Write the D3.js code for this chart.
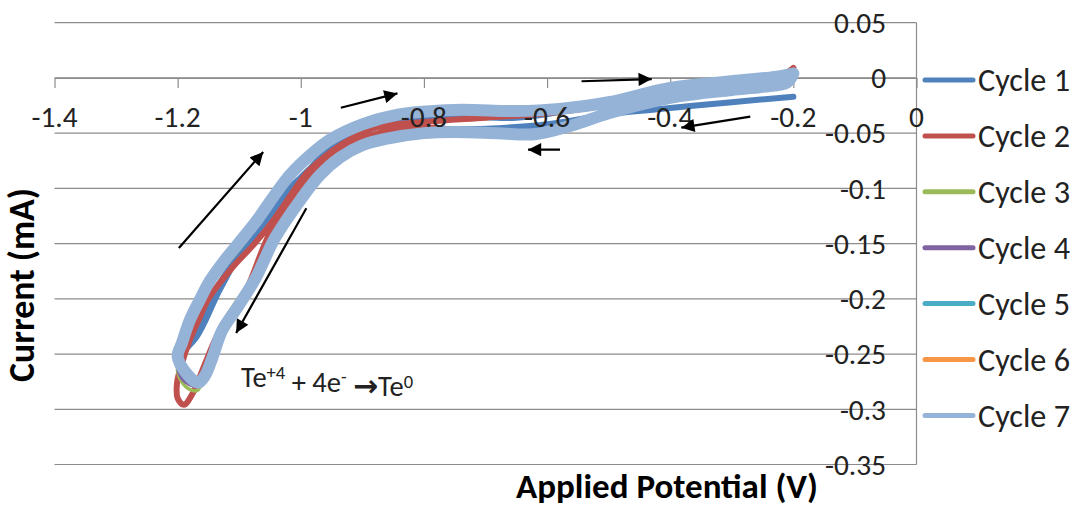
<!DOCTYPE html>
<html>
<head>
<meta charset="utf-8">
<script src="https://cdn.jsdelivr.net/npm/d3@7"></script>
<style>
  html, body { margin: 0; padding: 0; background: #ffffff; }
  svg { display: block; font-family: Carlito, Calibri, Lato, "Open Sans", sans-serif; }
</style>
</head>
<body>
<svg id="chart" width="1078" height="506"></svg>
<script>
// ---------------- data ----------------
const seriesNames = ["Cycle 1", "Cycle 2", "Cycle 3", "Cycle 4", "Cycle 5", "Cycle 6", "Cycle 7"];
const seriesColors = ["#4F81BD", "#C0504D", "#9BBB59", "#8064A2", "#4BACC6", "#F79646", "#95B3D7"];

const xTicks = [-1.4, -1.2, -1.0, -0.8, -0.6, -0.4, -0.2, 0];
const xTickLabels = ["-1.4", "-1.2", "-1", "-0.8", "-0.6", "-0.4", "-0.2", "0"];
const yTicks = [0.05, 0, -0.05, -0.1, -0.15, -0.2, -0.25, -0.3, -0.35];
const yTickLabels = ["0.05", "0", "-0.05", "-0.1", "-0.15", "-0.2", "-0.25", "-0.3", "-0.35"];

// [potential (V), current (mA)] : forward sweep from -0.2 V to -1.2 V, then back
const cycle1 = [[-0.2,-0.017],[-0.3,-0.022],[-0.433,-0.029],[-0.5,-0.033],[-0.6,-0.042],[-0.7,-0.046],[-0.8,-0.047],[-0.86,-0.05],[-0.9,-0.055],[-0.95,-0.066],[-1.0,-0.09],[-1.066,-0.129],[-1.13,-0.19],[-1.17,-0.235],[-1.2,-0.252],
  [-1.185,-0.243],[-1.16,-0.214],[-1.125,-0.18],[-1.085,-0.15],[-1.04,-0.118],[-1.0,-0.092],[-0.957,-0.066],[-0.918,-0.054],[-0.85,-0.04],[-0.75,-0.035],[-0.65,-0.036],[-0.55,-0.028],[-0.45,-0.015],[-0.35,-0.007],[-0.25,-0.002],[-0.2,0.0]];

const cycle2 = [[-0.2,0.009],[-0.21,-0.002],[-0.25,-0.007],[-0.3,-0.011],[-0.4,-0.018],[-0.5,-0.031],[-0.56,-0.044],[-0.62,-0.053],[-0.68,-0.052],[-0.75,-0.047],[-0.8,-0.045],[-0.86,-0.048],[-0.9,-0.055],[-0.95,-0.068],[-1.0,-0.098],[-1.05,-0.14],[-1.087,-0.19],[-1.11,-0.21],[-1.134,-0.231],[-1.158,-0.262],[-1.175,-0.285],[-1.19,-0.296],[-1.2,-0.29],
  [-1.201,-0.276],[-1.195,-0.262],[-1.18,-0.237],[-1.165,-0.218],[-1.15,-0.2],[-1.11,-0.171],[-1.075,-0.15],[-1.042,-0.127],[-1.0,-0.093],[-0.985,-0.083],[-0.93,-0.059],[-0.88,-0.045],[-0.8,-0.04],[-0.7,-0.036],[-0.6,-0.032],[-0.5,-0.024],[-0.4,-0.011],[-0.3,-0.005],[-0.22,0.002],[-0.2,0.009]];

const cycle3 = [[-0.2,0.006],[-0.21,-0.003],[-0.25,-0.008],[-0.3,-0.011],[-0.4,-0.018],[-0.5,-0.031],[-0.56,-0.043],[-0.62,-0.051],[-0.68,-0.051],[-0.75,-0.049],[-0.8,-0.049],[-0.86,-0.053],[-0.9,-0.058],[-0.936,-0.069],[-0.969,-0.085],[-1.0,-0.105],[-1.042,-0.14],[-1.074,-0.177],[-1.102,-0.2],[-1.128,-0.223],[-1.144,-0.248],[-1.156,-0.268],[-1.168,-0.283],[-1.186,-0.28],[-1.2,-0.266],
  [-1.195,-0.25],[-1.183,-0.228],[-1.168,-0.21],[-1.15,-0.19],[-1.125,-0.172],[-1.1,-0.155],[-1.07,-0.133],[-1.045,-0.112],[-1.018,-0.092],[-0.985,-0.073],[-0.953,-0.059],[-0.9,-0.044],[-0.84,-0.035],[-0.75,-0.031],[-0.65,-0.031],[-0.58,-0.029],[-0.5,-0.023],[-0.4,-0.01],[-0.3,-0.004],[-0.23,0.001],[-0.2,0.006]];

const cycle4 = [[-0.2,0.005],[-0.21,-0.003],[-0.25,-0.008],[-0.3,-0.011],[-0.4,-0.018],[-0.5,-0.032],[-0.56,-0.044],[-0.62,-0.051],[-0.68,-0.051],[-0.75,-0.049],[-0.8,-0.05],[-0.86,-0.054],[-0.9,-0.059],[-0.936,-0.07],[-0.969,-0.086],[-1.0,-0.107],[-1.042,-0.142],[-1.074,-0.179],[-1.102,-0.203],[-1.128,-0.225],[-1.144,-0.25],[-1.156,-0.268],[-1.17,-0.279],[-1.19,-0.274],[-1.2,-0.262],
  [-1.195,-0.248],[-1.183,-0.226],[-1.167,-0.207],[-1.15,-0.188],[-1.125,-0.17],[-1.1,-0.153],[-1.07,-0.131],[-1.045,-0.11],[-1.018,-0.09],[-0.985,-0.072],[-0.953,-0.058],[-0.9,-0.043],[-0.84,-0.034],[-0.75,-0.03],[-0.65,-0.03],[-0.58,-0.028],[-0.5,-0.022],[-0.4,-0.01],[-0.3,-0.004],[-0.23,0.001],[-0.2,0.005]];

const cycle5 = [[-0.2,0.005],[-0.21,-0.004],[-0.25,-0.008],[-0.3,-0.011],[-0.4,-0.018],[-0.5,-0.032],[-0.56,-0.044],[-0.62,-0.051],[-0.68,-0.051],[-0.75,-0.05],[-0.8,-0.05],[-0.86,-0.055],[-0.9,-0.06],[-0.936,-0.071],[-0.969,-0.087],[-1.0,-0.108],[-1.042,-0.143],[-1.074,-0.18],[-1.102,-0.205],[-1.128,-0.227],[-1.144,-0.252],[-1.156,-0.269],[-1.17,-0.277],[-1.19,-0.27],[-1.2,-0.258],
  [-1.194,-0.245],[-1.182,-0.223],[-1.166,-0.205],[-1.149,-0.186],[-1.125,-0.168],[-1.1,-0.152],[-1.07,-0.13],[-1.045,-0.109],[-1.018,-0.089],[-0.985,-0.071],[-0.953,-0.057],[-0.9,-0.043],[-0.84,-0.034],[-0.75,-0.03],[-0.65,-0.03],[-0.58,-0.028],[-0.5,-0.022],[-0.4,-0.009],[-0.3,-0.003],[-0.23,0.001],[-0.2,0.005]];

const cycle6 = [[-0.2,0.004],[-0.21,-0.004],[-0.25,-0.008],[-0.3,-0.011],[-0.4,-0.018],[-0.5,-0.032],[-0.56,-0.043],[-0.62,-0.051],[-0.68,-0.05],[-0.75,-0.049],[-0.8,-0.05],[-0.86,-0.055],[-0.9,-0.061],[-0.936,-0.072],[-0.969,-0.088],[-1.0,-0.109],[-1.042,-0.144],[-1.074,-0.181],[-1.102,-0.206],[-1.128,-0.228],[-1.144,-0.253],[-1.156,-0.27],[-1.165,-0.278],[-1.185,-0.27],[-1.2,-0.256],
  [-1.193,-0.242],[-1.181,-0.221],[-1.165,-0.203],[-1.148,-0.185],[-1.125,-0.167],[-1.1,-0.151],[-1.07,-0.129],[-1.045,-0.109],[-1.018,-0.089],[-0.985,-0.071],[-0.953,-0.057],[-0.9,-0.042],[-0.84,-0.033],[-0.75,-0.029],[-0.65,-0.03],[-0.58,-0.028],[-0.5,-0.022],[-0.4,-0.009],[-0.3,-0.003],[-0.23,0.001],[-0.2,0.004]];

const cycle7 = [[-0.2,0.004],[-0.21,-0.004],[-0.25,-0.008],[-0.3,-0.011],[-0.4,-0.018],[-0.5,-0.032],[-0.56,-0.043],[-0.62,-0.051],[-0.68,-0.05],[-0.75,-0.049],[-0.8,-0.05],[-0.86,-0.055],[-0.9,-0.061],[-0.936,-0.072],[-0.969,-0.088],[-1.0,-0.11],[-1.042,-0.145],[-1.074,-0.182],[-1.102,-0.207],[-1.128,-0.229],[-1.144,-0.254],[-1.156,-0.27],[-1.167,-0.276],[-1.185,-0.268],[-1.2,-0.252],
  [-1.193,-0.24],[-1.18,-0.219],[-1.165,-0.202],[-1.148,-0.184],[-1.125,-0.166],[-1.1,-0.149],[-1.07,-0.128],[-1.045,-0.108],[-1.018,-0.088],[-0.985,-0.07],[-0.953,-0.056],[-0.9,-0.042],[-0.84,-0.033],[-0.75,-0.029],[-0.65,-0.03],[-0.58,-0.028],[-0.5,-0.022],[-0.4,-0.009],[-0.3,-0.003],[-0.23,0.001],[-0.2,0.004]];

// annotation arrows: [tailV, tailI, headV, headI]
const arrowData = [
  [-1.198, -0.154, -1.061, -0.067],
  [-0.935, -0.027, -0.843, -0.014],
  [-0.544, -0.003, -0.430, -0.001],
  [-0.270, -0.035, -0.382, -0.045],
  [-0.579, -0.065, -0.631, -0.065],
  [-0.991, -0.118, -1.105, -0.231]
];
const reactionLabel = { v: -1.097, i: -0.280 };

// ---------------- drawing ----------------
const allCycles = [cycle1, cycle2, cycle3, cycle4, cycle5, cycle6, cycle7];
const strokeWidths = [6, 6, 3.5, 3.5, 3.5, 3.5, 12];

const svg = d3.select("#chart");
svg.append("rect").attr("width", 1078).attr("height", 506).attr("fill", "#fff");

const x = d3.scaleLinear().domain([-1.4, 0]).range([54.5, 916.5]);
const y = d3.scaleLinear().domain([-0.35, 0.05]).range([464.5, 22.7]);

function fitFont(sel, targetWidth) {
  sel.each(function() {
    const len = this.getComputedTextLength();
    const fs = parseFloat(getComputedStyle(this).fontSize);
    if (len > 0) d3.select(this).style("font-size", (fs * targetWidth / len).toFixed(2) + "px");
  });
}

// gridlines
svg.append("g").selectAll("line").data(yTicks).join("line")
  .attr("x1", x(-1.4)).attr("x2", x(0))
  .attr("y1", d => y(d)).attr("y2", d => y(d))
  .attr("stroke", "#8c8c8c").attr("stroke-width", 1.2);

// vertical axis line at V = 0
svg.append("line").attr("x1", x(0)).attr("x2", x(0)).attr("y1", y(0.05)).attr("y2", y(-0.35))
  .attr("stroke", "#8c8c8c").attr("stroke-width", 1.2);

// x axis (at I = 0)
const xAxis = d3.axisBottom(x).tickValues(xTicks).tickSize(10).tickSizeOuter(0)
  .tickFormat((d, i) => xTickLabels[i]);
const gx = svg.append("g").attr("transform", `translate(0,${y(0)})`).call(xAxis);
gx.select(".domain").attr("stroke", "#8c8c8c").attr("stroke-width", 1.2);
gx.selectAll(".tick line").attr("stroke", "#8c8c8c").attr("stroke-width", 1.2);
gx.selectAll("text").remove();

// series
const line = d3.line().x(d => x(d[0])).y(d => y(d[1])).curve(d3.curveCatmullRom.alpha(0.5));
svg.append("g").selectAll("path").data(allCycles).join("path")
  .attr("d", d => line(d))
  .attr("fill", "none")
  .attr("stroke", (d, i) => seriesColors[i])
  .attr("stroke-width", (d, i) => strokeWidths[i])
  .attr("stroke-linejoin", "round").attr("stroke-linecap", "round");

// x tick labels (drawn over the curves)
const xl = svg.append("g").selectAll("text").data(xTicks).join("text")
  .attr("x", d => x(d)).attr("y", y(0) + 49)
  .attr("text-anchor", "middle").attr("fill", "#222")
  .style("font-size", "26px")
  .text((d, i) => xTickLabels[i]);

// y tick labels
const yl = svg.append("g").selectAll("text").data(yTicks).join("text")
  .attr("x", x(0) - 30.5).attr("y", d => y(d)).attr("dy", "0.35em")
  .attr("text-anchor", "end").attr("fill", "#222")
  .style("font-size", "26px")
  .text((d, i) => yTickLabels[i]);
{
  const ref = yl.filter((d, i) => yTickLabels[i] === "-0.05").node();
  const k = 61 / ref.getComputedTextLength();
  const fs = (26 * k).toFixed(2) + "px";
  xl.style("font-size", fs); yl.style("font-size", fs);
}

// arrows
const defs = svg.append("defs");
defs.append("marker").attr("id", "ah").attr("viewBox", "0 0 10 10")
  .attr("refX", 10).attr("refY", 5).attr("markerWidth", 7).attr("markerHeight", 6)
  .attr("markerUnits", "strokeWidth").attr("orient", "auto")
  .append("path").attr("d", "M0,0 L10,5 L0,10 Z").attr("fill", "#000");
svg.append("g").selectAll("line").data(arrowData).join("line")
  .attr("x1", d => x(d[0])).attr("y1", d => y(d[1]))
  .attr("x2", d => x(d[2])).attr("y2", d => y(d[3]))
  .attr("stroke", "#000").attr("stroke-width", 2.2)
  .attr("marker-end", "url(#ah)");

// reaction annotation
const ann = svg.append("text").attr("x", x(reactionLabel.v)).attr("y", y(reactionLabel.i))
  .attr("fill", "#222").style("font-size", "27px");
ann.append("tspan").text("Te");
ann.append("tspan").attr("dy", "-0.45em").style("font-size", "0.65em").text("+4");
ann.append("tspan").attr("dy", "0.45em").text(" + 4e");
ann.append("tspan").attr("dy", "-0.45em").style("font-size", "0.65em").text("-");
ann.append("tspan").attr("dy", "0.45em").text(" ");
ann.append("tspan").style("font-family", "'DejaVu Sans', sans-serif").style("font-weight", "bold")
  .style("font-size", "1.05em").text("\u2192");
ann.append("tspan").text("Te");
ann.append("tspan").attr("dy", "-0.45em").style("font-size", "0.65em").text("0");
fitFont(ann, 172);

// axis titles
const yTitle = svg.append("text").attr("transform", "translate(34,285) rotate(-90)")
  .attr("text-anchor", "middle").attr("font-weight", "bold").attr("fill", "#000")
  .style("font-size", "30px").text("Current (mA)");
fitFont(yTitle, 194);
const xTitle = svg.append("text").attr("x", 667).attr("y", 498)
  .attr("text-anchor", "middle").attr("font-weight", "bold").attr("fill", "#000")
  .style("font-size", "30px").text("Applied Potential (V)");
fitFont(xTitle, 302);

// legend
const leg = svg.append("g").selectAll("g").data(seriesNames).join("g")
  .attr("transform", (d, i) => `translate(925,${80 + i * 55.9})`);
leg.append("line").attr("x1", 0).attr("x2", 48).attr("y1", 0).attr("y2", 0)
  .attr("stroke", (d, i) => seriesColors[i]).attr("stroke-width", 5).attr("stroke-linecap", "round");
const legText = leg.append("text").attr("x", 53).attr("y", 0).attr("dy", "0.35em")
  .attr("fill", "#222").style("font-size", "28px").text(d => d);
fitFont(legText, 92);
</script>
</body>
</html>
